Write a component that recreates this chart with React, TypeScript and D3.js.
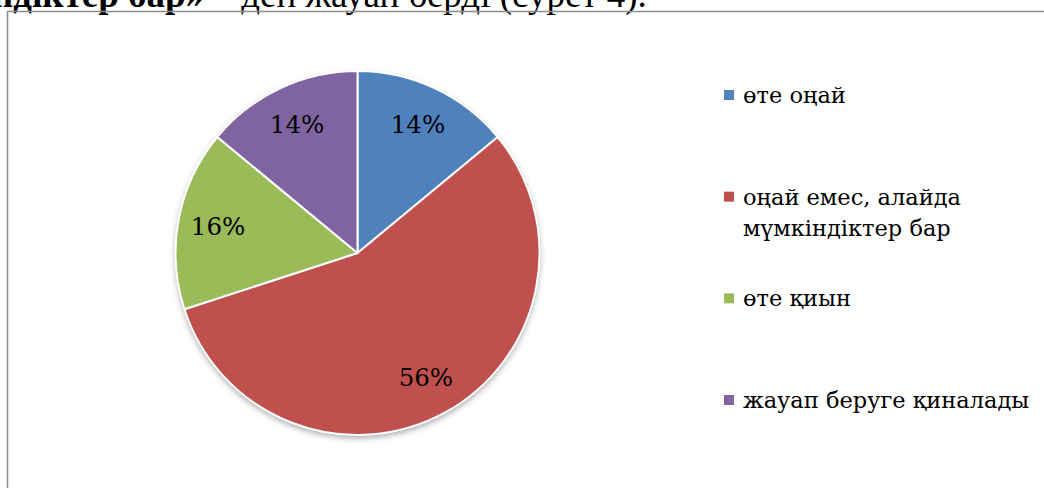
import { useEffect, useRef } from "react";
import * as d3 from "d3";

const categories = ["өте оңай", "оңай емес, алайда мүмкіндіктер бар", "өте қиын", "жауап беруге қиналады"];
const legendLines = [["өте оңай"], ["оңай емес, алайда", "мүмкіндіктер бар"], ["өте қиын"], ["жауап беруге қиналады"]];
const values = [14, 56, 16, 14];
const colors = ["#4F81BD", "#C0504D", "#9BBB59", "#8064A2"];

export default function App() {
  const ref = useRef<SVGSVGElement | null>(null);

  useEffect(() => {
    const svg = d3.select(ref.current);
    const width = 1044;
    const height = 488;
    svg.selectAll("*").remove();
    svg.attr("width", width).attr("height", height);

    svg.append("rect").attr("width", width).attr("height", height).attr("fill", "#fff");

    // caption text from the page above, cut off at the top
    const cap = svg.append("text")
      .attr("x", -8)
      .attr("y", 7)
      .attr("font-family", "'Liberation Serif', serif")
      .attr("font-size", 37)
      .attr("fill", "#000");
    cap.append("tspan").attr("font-weight", "bold").text("ндіктер бар»");
    cap.append("tspan").text(" – деп жауап берді (сурет 4).");

    // chart frame
    svg.append("rect")
      .attr("x", 7.5).attr("y", 11.5)
      .attr("width", width + 20).attr("height", height + 20)
      .attr("fill", "none").attr("stroke", "#8c8c8c").attr("stroke-width", 1.5);

    const cx = 357.5, cy = 253, r = 182;

    const defs = svg.append("defs");
    const f = defs.append("filter").attr("id", "sh").attr("x", "-20%").attr("y", "-20%").attr("width", "140%").attr("height", "140%");
    f.append("feDropShadow").attr("dx", 0).attr("dy", 3).attr("stdDeviation", 3).attr("flood-color", "#000").attr("flood-opacity", 0.35);

    const g = svg.append("g").attr("transform", `translate(${cx},${cy})`);
    g.append("circle").attr("r", r).attr("fill", "#fff").attr("filter", "url(#sh)");

    const pie = d3.pie<number>().sort(null).value(d => d);
    const arcs = pie(values);
    const arc = d3.arc<d3.PieArcDatum<number>>().innerRadius(0).outerRadius(r);
    const labelArc = d3.arc<d3.PieArcDatum<number>>().innerRadius(r * 0.78).outerRadius(r * 0.78);

    g.selectAll("path")
      .data(arcs)
      .join("path")
      .attr("d", arc)
      .attr("fill", (d, i) => colors[i])
      .attr("stroke", "#fff")
      .attr("stroke-width", 2)
      .attr("stroke-linejoin", "round");

    g.selectAll("text.lbl")
      .data(arcs)
      .join("text")
      .attr("class", "lbl")
      .attr("transform", d => `translate(${labelArc.centroid(d)})`)
      .attr("text-anchor", "middle")
      .attr("dy", "0.35em")
      .attr("font-family", "'DejaVu Serif', serif")
      .attr("font-size", 24.5)
      .attr("fill", "#000")
      .text(d => `${d.data}%`);

    // legend
    const ly = d3.scalePoint<string>().domain(categories).range([95, 400]);
    const leg = svg.append("g");
    categories.forEach((c, i) => {
      const y = ly(c)!;
      leg.append("rect")
        .attr("x", 724).attr("y", y - 5)
        .attr("width", 10).attr("height", 10)
        .attr("fill", colors[i]);
      const t = leg.append("text")
        .attr("x", 743).attr("y", y)
        .attr("font-family", "'DejaVu Serif', serif")
        .attr("font-size", 22.5)
        .attr("fill", "#000");
      legendLines[i].forEach((line, j) => {
        t.append("tspan").attr("x", 743).attr("dy", j === 0 ? "0.35em" : 31).text(line);
      });
    });
  }, []);

  return (
    <svg ref={ref} style={{ position: "fixed", left: 0, top: 0, display: "block" }} />
  );
}
